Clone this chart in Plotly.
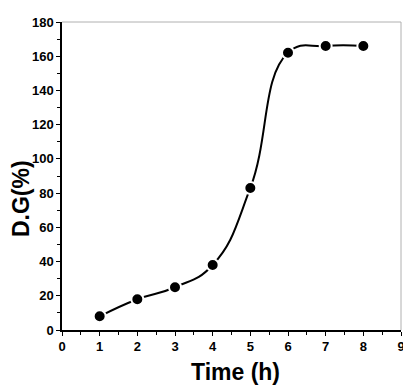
import plotly.graph_objects as go

# data
time_h = [1, 2, 3, 4, 5, 6, 7, 8]
dg_pct = [8, 18, 25, 38, 83, 162, 166, 166]

x_ticks = [0, 1, 2, 3, 4, 5, 6, 7, 8, 9]
y_ticks = [0, 20, 40, 60, 80, 100, 120, 140, 160, 180]

FONT = "Liberation Sans"
TITLE_FONT = dict(family=FONT, size=23, color="black", weight="bold")

fig = go.Figure(go.Scatter(
    x=time_h,
    y=dg_pct,
    mode="lines+markers",
    line=dict(color="black", width=2, shape="spline", smoothing=1.3),
    marker=dict(size=12, color="black", line=dict(color="white", width=2)),
    showlegend=False,
))

axis_common = dict(
    showline=True,
    linecolor="black",
    linewidth=1.5,
    ticks="outside",
    ticklen=4,
    tickwidth=1.2,
    tickcolor="black",
    showgrid=False,
    zeroline=False,
    automargin=False,
    tickfont=dict(family=FONT, size=13, color="black", weight="bold"),
)

# page body has an 8px margin, so the figure is a bit smaller than the window
fig.update_layout(
    width=403,
    height=382,
    paper_bgcolor="white",
    plot_bgcolor="white",
    margin=dict(l=54, r=10, t=14, b=60),
    xaxis=dict(
        **axis_common,
        range=[0, 9],
        tickvals=x_ticks,
        minor=dict(ticks="outside", ticklen=3, dtick=0.5, tickcolor="black"),
    ),
    yaxis=dict(
        **axis_common,
        range=[0, 180],
        tickvals=y_ticks,
        minor=dict(ticks="outside", ticklen=3, dtick=10, tickcolor="black"),
    ),
    shapes=[
        dict(type="line", xref="paper", yref="paper", x0=0, x1=1, y0=1, y1=1,
             line=dict(color="#b0b0b0", width=1)),
        dict(type="line", xref="paper", yref="paper", x0=1, x1=1, y0=0, y1=1,
             line=dict(color="#b0b0b0", width=1)),
    ],
    annotations=[
        dict(text="Time (h)", xref="paper", yref="paper", x=0.513, y=0,
             xanchor="center", yanchor="middle", yshift=-42,
             showarrow=False, font=TITLE_FONT),
        dict(text="D.G(%)", xref="paper", yref="paper", x=0, y=0.425,
             xanchor="center", yanchor="middle", xshift=-41, textangle=-90,
             showarrow=False, font=TITLE_FONT),
    ],
)

fig.write_html("out.html")
